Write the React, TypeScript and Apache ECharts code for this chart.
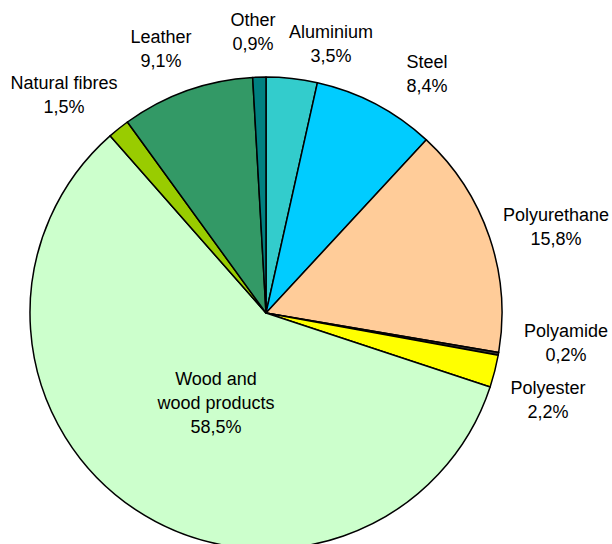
import React, { useEffect, useRef } from "react";
import * as echarts from "echarts";

const categories = [
  "Aluminium",
  "Steel",
  "Polyurethane",
  "Polyamide",
  "Polyester",
  "Wood and\nwood products",
  "Natural fibres",
  "Leather",
  "Other",
];
const shares = [3.5, 8.4, 15.8, 0.2, 2.2, 58.5, 1.5, 9.1, 0.9];
const colors = [
  "#33CCCC",
  "#00CCFF",
  "#FFCC99",
  "#333333",
  "#FFFF00",
  "#CCFFCC",
  "#99CC00",
  "#339966",
  "#008080",
];
// label centres (layout only)
const labelPos: [number, number][] = [
  [331, 44],
  [427, 74],
  [556, 227],
  [566, 343],
  [548, 400],
  [216, 403],
  [64, 95],
  [161, 49],
  [253, 32],
];

export default function App() {
  const ref = useRef<HTMLDivElement>(null);
  useEffect(() => {
    if (!ref.current) return;
    const chart = echarts.init(ref.current, undefined, { renderer: "svg" });
    chart.setOption({
      animation: false,
      backgroundColor: "#ffffff",
      series: [
        {
          type: "pie",
          center: [266, 313],
          radius: 236,
          startAngle: 90,
          clockwise: true,
          avoidLabelOverlap: false,
          itemStyle: { borderColor: "#000000", borderWidth: 1.5 },
          label: {
            show: true,
            position: "outside",
            color: "#000000",
            fontFamily: "Liberation Sans, Arial, sans-serif",
            fontSize: 18,
            lineHeight: 24,
            align: "center",
            formatter: (p: any) =>
              p.name + "\n" + Number(p.value).toFixed(1).replace(".", ",") + "%",
          },
          labelLine: { show: false },
          labelLayout: (p: any) => ({
            x: labelPos[p.dataIndex][0],
            y: labelPos[p.dataIndex][1],
            align: "center",
            verticalAlign: "middle",
          }),
          emphasis: { disabled: true },
          data: categories.map((c, i) => ({
            name: c,
            value: shares[i],
            itemStyle: { color: colors[i] },
          })),
        },
      ],
    });
    return () => chart.dispose();
  }, []);
  return (
    <div
      ref={ref}
      style={{ position: "fixed", left: 0, top: 0, width: 612, height: 544 }}
    />
  );
}
